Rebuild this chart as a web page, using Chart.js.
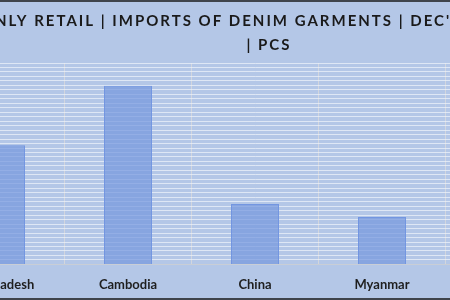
<!DOCTYPE html>
<html>
<head>
  <title>Imports of Denim Garments</title>
  <script src="https://cdn.jsdelivr.net/npm/chart.js"></script>
  <style>
    html, body { margin: 0; padding: 0; background: #b4c7e7; overflow: hidden; }
    #wrap { position: relative; width: 450px; height: 300px; overflow: hidden; }
    #c { position: absolute; left: -131px; top: 0; }
    .edge { position: absolute; left: 0; width: 450px; height: 2px; background: #3f444c; }
  </style>
</head>
<body>
  <div id="wrap">
    <canvas id="c" width="800" height="306"></canvas>
    <div class="edge" style="top:0"></div>
    <div class="edge" style="top:298px"></div>
  </div>

  <script>
    // countries (last one falls outside the visible crop)
    const countries = ["Bangladesh", "Cambodia", "China", "Myanmar", ""];
    // pieces imported
    const pcs = [26600, 39900, 13500, 10600, null];
    const titleLines = ["ONLY RETAIL | IMPORTS OF DENIM GARMENTS | DEC'21 - MAY'22", "| PCS"];

    const ctx = document.getElementById("c").getContext("2d");

    // the title is spaced out a little, like the original
    const spacedTitle = {
      id: "spacedTitle",
      afterInit(chart) {
        const block = chart.titleBlock;
        if (!block) return;
        const draw = block.draw;
        block.draw = function () {
          const prev = this.ctx.letterSpacing;
          this.ctx.letterSpacing = "2px";
          draw.apply(this, arguments);
          this.ctx.letterSpacing = prev;
        };
      }
    };

    new Chart(ctx, {
      type: "bar",
      data: {
        labels: countries,
        datasets: [{
          data: pcs,
          backgroundColor: "rgba(118, 152, 222, 0.72)",
          borderColor: "rgba(112, 148, 224, 0.95)",
          borderWidth: 1,
          categoryPercentage: 1,
          barPercentage: 0.378
        }]
      },
      options: {
        responsive: false,
        animation: false,
        layout: { padding: { left: 68.5, right: 68.5, top: 0, bottom: 0 } },
        plugins: {
          legend: { display: false },
          tooltip: { enabled: false },
          title: {
            display: true,
            text: titleLines,
            color: "#1a1a1a",
            font: { family: "Lato", size: 15, weight: "bold", lineHeight: 1.6 },
            padding: { top: 9, bottom: 6 }
          }
        },
        scales: {
          x: {
            grid: { color: "#d2d6de", lineWidth: 1, drawTicks: false, offset: true },
            border: { color: "#c9ced6" },
            ticks: {
              color: "#1f1f1f",
              padding: 13,
              font: { family: "Lato", size: 13, weight: "bold" }
            }
          },
          y: {
            position: "right",
            min: 0,
            max: 45000,
            afterFit: (scale) => { scale.width = 28; },
            grid: { color: "rgba(236, 241, 250, 0.75)", lineWidth: 1, drawTicks: false },
            border: { display: false },
            ticks: { display: false, stepSize: 1000 }
          }
        }
      },
      plugins: [spacedTitle]
    });
  </script>
</body>
</html>
